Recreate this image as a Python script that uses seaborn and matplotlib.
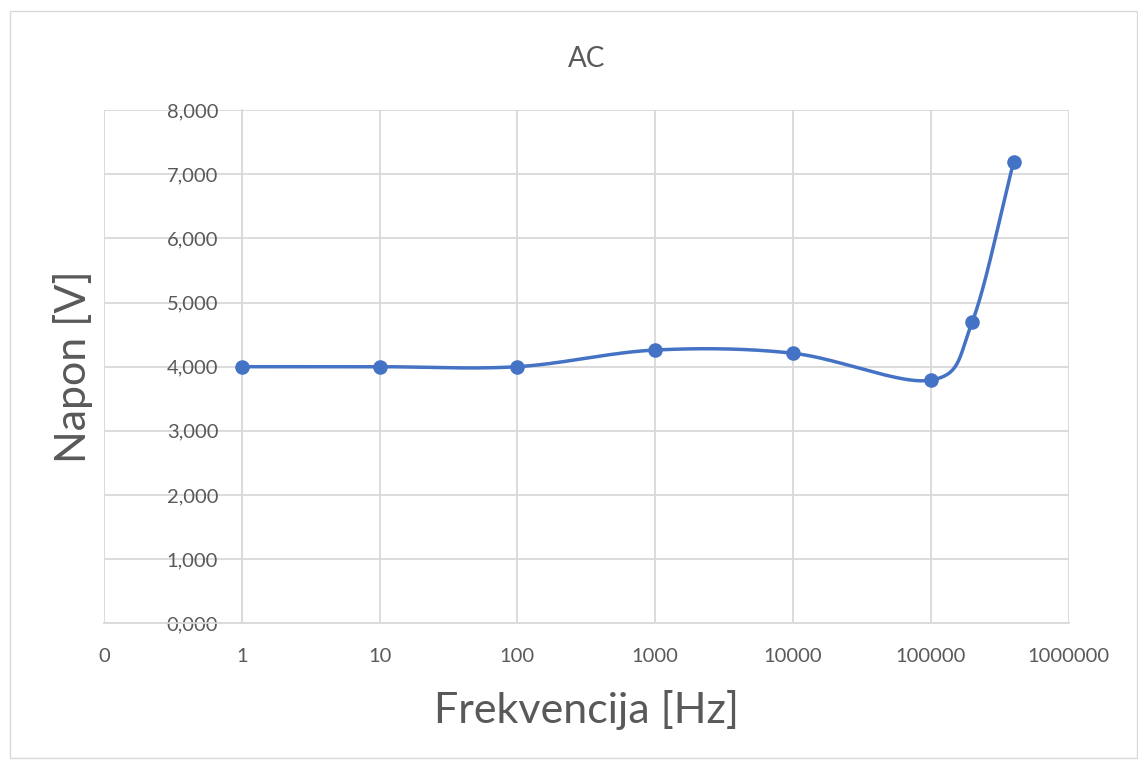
import numpy as np
import matplotlib
matplotlib.use("Agg")
import matplotlib.pyplot as plt
import seaborn as sns
from matplotlib.patches import Rectangle
from matplotlib.ticker import FixedLocator, FixedFormatter, FuncFormatter

# podaci
frekvencija = [1, 10, 100, 1000, 10000, 100000, 200000, 400000]
napon = [4.0, 4.0, 4.0, 4.26, 4.21, 3.79, 4.70, 7.20]

x_ticks = [0.1, 1, 10, 100, 1000, 10000, 100000, 1000000]
x_labels = ["0", "1", "10", "100", "1000", "10000", "100000", "1000000"]
y_ticks = [0, 1, 2, 3, 4, 5, 6, 7, 8]

plava = "#4472C4"
siva = "#D9D9D9"
tekst = "#595959"


def glatka_linija(x, y, n=40):
    # Catmull-Rom kao Excelova "smoothed line", u log-x prostoru
    lx = np.log10(np.array(x, dtype=float))
    yy = np.array(y, dtype=float)
    P = np.column_stack([lx, yy])
    P = np.vstack([2 * P[0] - P[1], P, 2 * P[-1] - P[-2]])
    out = []
    for i in range(1, len(P) - 2):
        p0, p1, p2, p3 = P[i - 1], P[i], P[i + 1], P[i + 2]
        t = np.linspace(0, 1, n)[:, None]
        seg = 0.5 * ((2 * p1) + (-p0 + p2) * t + (2 * p0 - 5 * p1 + 4 * p2 - p3) * t ** 2
                     + (-p0 + 3 * p1 - 3 * p2 + p3) * t ** 3)
        out.append(seg)
    out = np.vstack(out)
    return 10 ** out[:, 0], out[:, 1]


sns.set_style("white")
plt.rcParams['font.family'] = ['Lato', 'DejaVu Sans']

fig = plt.figure(figsize=(11.38, 7.6), dpi=100)
fig.patches.append(Rectangle((0.009, 0.003), 0.99, 0.982, transform=fig.transFigure,
                             fill=False, edgecolor=siva, linewidth=1))
ax = fig.add_axes([0.0914, 0.180, 0.8476, 0.675])

sx, sy = glatka_linija(frekvencija, napon)
ax.plot(sx, sy, color=plava, linewidth=2.5, zorder=3)
sns.scatterplot(x=frekvencija, y=napon, ax=ax, color=plava, s=110, edgecolor=plava,
                linewidth=0, zorder=4, legend=False)

ax.set_xscale("log")
ax.set_xlim(0.1, 1000000)
ax.set_ylim(0, 8)
ax.xaxis.set_major_locator(FixedLocator(x_ticks))
ax.xaxis.set_major_formatter(FixedFormatter(x_labels))
ax.xaxis.set_minor_locator(FixedLocator([]))
ax.yaxis.set_major_locator(FixedLocator(y_ticks))
ax.yaxis.set_major_formatter(FuncFormatter(lambda v, p: f"{v:.3f}".replace(".", ",")))

ax.grid(True, color=siva, linewidth=1.3)
ax.set_axisbelow(True)
for s in ["top", "right"]:
    ax.spines[s].set_visible(False)
ax.spines["left"].set_position(("data", 1))
ax.spines["left"].set_color(siva)
ax.spines["left"].set_linewidth(1.3)
ax.spines["bottom"].set_color(siva)
ax.spines["bottom"].set_linewidth(1.3)

ax.tick_params(axis="y", length=0, pad=17, labelsize=14.5, labelcolor=tekst)
ax.tick_params(axis="x", length=0, pad=18, labelsize=14.5, labelcolor=tekst)

ax.set_title("AC", fontsize=20, color=tekst, pad=31)
ax.set_xlabel("Frekvencija [Hz]", fontsize=31, color=tekst, labelpad=18)
fig.text(0.064, 0.517, "Napon [V]", rotation=90, fontsize=31, color=tekst,
         ha="center", va="center")

fig.savefig("out.png", dpi=100)
